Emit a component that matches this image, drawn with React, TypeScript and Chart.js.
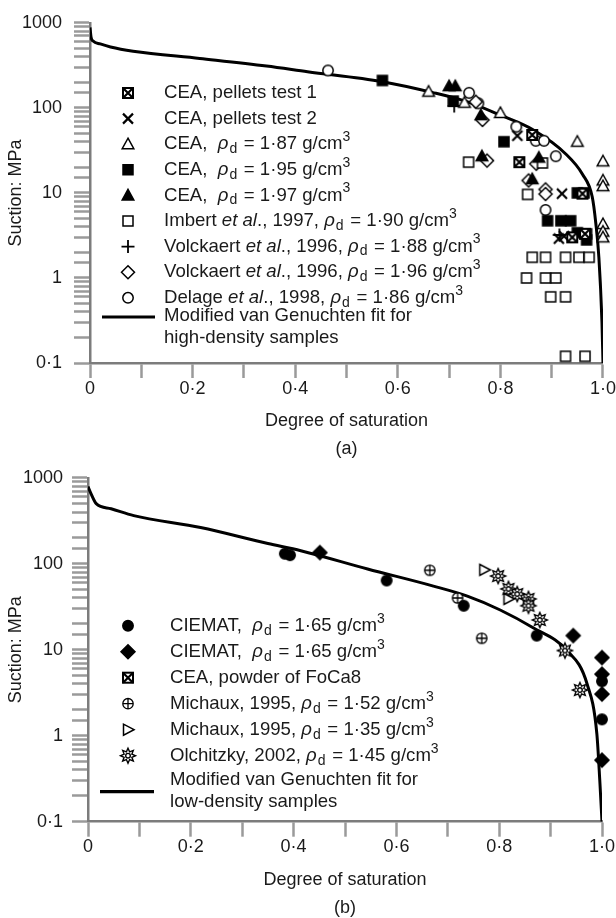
import React, { useEffect, useRef } from 'react';
import { Chart, registerables } from 'chart.js';
Chart.register(...registerables);

const FONT = '"Liberation Sans", Arial, Helvetica, sans-serif';
const INK = '#1a1a1a';
const LEG = 18.6;

// ---------- Panel (a) data: [degree of saturation, suction MPa] ----------
const fitA_S = [0, 0.002, 0.006, 0.02, 0.04, 0.084, 0.214, 0.344, 0.424, 0.57, 0.667, 0.733, 0.798, 0.862, 0.928, 0.96, 0.979, 0.986, 0.992, 0.998, 1.0];
const fitA_V = [880, 680, 610, 565, 520, 464, 381, 310, 266, 203, 152, 119, 83, 56, 28.5, 16.6, 9, 4.4, 1.74, 0.3, 0.1];

const ceaPellets1: [number, number][] = [[0.862, 48], [0.837, 23], [0.96, 9.8], [0.965, 3.3], [0.94, 3.0]];
const ceaPellets2: [number, number][] = [[0.833, 47], [0.92, 9.8], [0.914, 2.9], [0.924, 3.1]];
const cea187: [number, number][] = [[0.66, 155], [0.73, 115], [0.8, 87], [0.95, 40], [1.0, 23.5], [1.0, 14], [1.0, 12], [1.0, 4.3], [1.0, 3.5], [1.0, 3.0]];
const cea195: [number, number][] = [[0.57, 210], [0.708, 120], [0.807, 40], [0.95, 10], [0.963, 10], [0.892, 4.7], [0.918, 4.7], [0.937, 4.7], [0.95, 3.4], [0.968, 3.3], [0.968, 2.8]];
const cea197: [number, number][] = [[0.7, 180], [0.712, 180], [0.762, 82], [0.764, 27], [0.875, 26], [0.862, 14.5]];
const imbert190: [number, number][] = [[0.738, 23], [0.882, 22.5], [0.853, 9.6], [0.862, 1.75], [0.888, 1.75], [0.927, 1.75], [0.953, 1.75], [0.973, 1.75], [0.851, 1.0], [0.888, 1.0], [0.908, 1.0], [0.898, 0.6], [0.927, 0.6], [0.927, 0.12], [0.965, 0.12]];
const volck188: [number, number][] = [[0.71, 105], [0.915, 3.2]];
const volck196: [number, number][] = [[0.752, 118], [0.765, 72], [0.774, 24], [0.87, 22], [0.855, 14], [0.888, 11], [0.888, 9.7]];
const delage186: [number, number][] = [[0.464, 275], [0.739, 150], [0.757, 113], [0.831, 60], [0.869, 41], [0.885, 41], [0.908, 27], [0.888, 6.3]];

// ---------- Panel (b) data ----------
const fitB_S = [0, 0.006, 0.016, 0.045, 0.089, 0.219, 0.35, 0.414, 0.544, 0.672, 0.738, 0.802, 0.866, 0.932, 0.971, 0.99, 0.996, 1.0];
const fitB_V = [790, 650, 500, 436, 363, 264, 172, 142, 87, 55, 42, 29, 18, 9.8, 4, 1.05, 0.28, 0.1];

const ciematCircle: [number, number][] = [[0.383, 131], [0.393, 126], [0.581, 64], [0.731, 32.5], [0.873, 14.6], [1.0, 4.3], [1.0, 1.55]];
const ciematDiamond: [number, number][] = [[0.451, 135], [0.944, 14.6], [1.0, 8.1], [1.0, 5.2], [1.0, 3.05], [1.0, 0.52]];
const ceaPowder: [number, number][] = [];
const michaux152: [number, number][] = [[0.665, 84], [0.719, 40], [0.766, 13.6]];
const michaux135: [number, number][] = [[0.771, 85], [0.818, 39]];
const olchitzky145: [number, number][] = [[0.798, 72], [0.818, 51], [0.835, 44.5], [0.857, 39], [0.857, 32.5], [0.879, 22.2], [0.928, 9.8], [0.957, 3.4]];

// ---------- tick labels ----------
const yTickLabels: Record<string, string> = { '-1': '0·1', '0': '1', '1': '10', '2': '100', '3': '1000' };
const xTickLabels = ['0', '0·2', '0·4', '0·6', '0·8', '1·0'];

// ---------- legend texts (segments: [text, style] 0 normal, 1 italic, 2 sub, 3 sup) ----------
type Seg = [string, number?];
const rho = (v: string, pre: Seg[]): Seg[] => [...pre, ['ρ', 1], ['d', 2], [' = ' + v + ' g/cm'], ['3', 3]];
const legendA: Seg[][] = [
  [['CEA, pellets test 1']],
  [['CEA, pellets test 2']],
  rho('1·87', [['CEA,  ']]),
  rho('1·95', [['CEA,  ']]),
  rho('1·97', [['CEA,  ']]),
  rho('1·90', [['Imbert '], ['et al', 1], ['., 1997, ']]),
  rho('1·88', [['Volckaert '], ['et al', 1], ['., 1996, ']]),
  rho('1·96', [['Volckaert '], ['et al', 1], ['., 1996, ']]),
  rho('1·86', [['Delage '], ['et al', 1], ['., 1998, ']]),
];
const fitLabelA = ['Modified van Genuchten fit for', 'high-density samples'];
const legendB: Seg[][] = [
  rho('1·65', [['CIEMAT,  ']]),
  rho('1·65', [['CIEMAT,  ']]),
  [['CEA, powder of FoCa8']],
  rho('1·52', [['Michaux, 1995, ']]),
  rho('1·35', [['Michaux, 1995, ']]),
  rho('1·45', [['Olchitzky, 2002, ']]),
];
const fitLabelB = ['Modified van Genuchten fit for', 'low-density samples'];

// ---------- markers ----------
type Mk = 'boxX' | 'x' | 'triOpen' | 'sqFill' | 'triFill' | 'sqOpen' | 'plus' | 'diaOpen' | 'circOpen' | 'circFill' | 'diaFill' | 'circPlus' | 'triRight' | 'star';

function drawMarker(ctx: CanvasRenderingContext2D, mk: Mk, x: number, y: number) {
  ctx.save();
  ctx.strokeStyle = '#000';
  ctx.fillStyle = '#000';
  ctx.lineWidth = 1.5;
  ctx.lineJoin = 'miter';
  const poly = (pts: number[][], fill: string) => {
    ctx.beginPath();
    pts.forEach(([px, py], i) => (i ? ctx.lineTo(x + px, y + py) : ctx.moveTo(x + px, y + py)));
    ctx.closePath();
    ctx.fillStyle = fill;
    ctx.fill();
    ctx.stroke();
  };
  switch (mk) {
    case 'boxX': {
      const r = 5;
      ctx.fillStyle = '#fff';
      ctx.fillRect(x - r, y - r, 2 * r, 2 * r);
      ctx.lineWidth = 2;
      ctx.strokeRect(x - r, y - r, 2 * r, 2 * r);
      ctx.beginPath();
      ctx.moveTo(x - r, y - r); ctx.lineTo(x + r, y + r);
      ctx.moveTo(x + r, y - r); ctx.lineTo(x - r, y + r);
      ctx.lineWidth = 2.2;
      ctx.stroke();
      break;
    }
    case 'x': {
      const r = 5;
      ctx.lineWidth = 2.2;
      ctx.beginPath();
      ctx.moveTo(x - r, y - r); ctx.lineTo(x + r, y + r);
      ctx.moveTo(x + r, y - r); ctx.lineTo(x - r, y + r);
      ctx.stroke();
      break;
    }
    case 'plus': {
      const r = 6.5;
      ctx.lineWidth = 1.8;
      ctx.beginPath();
      ctx.moveTo(x - r, y); ctx.lineTo(x + r, y);
      ctx.moveTo(x, y - r); ctx.lineTo(x, y + r);
      ctx.stroke();
      break;
    }
    case 'triOpen': poly([[0, -6], [5.8, 4.5], [-5.8, 4.5]], '#fff'); break;
    case 'triFill': poly([[0, -6], [5.8, 4.5], [-5.8, 4.5]], '#000'); break;
    case 'triRight': poly([[6, 0], [-4.5, -5.5], [-4.5, 5.5]], '#fff'); break;
    case 'sqOpen': poly([[-5, -5], [5, -5], [5, 5], [-5, 5]], '#fff'); break;
    case 'sqFill': poly([[-5, -5], [5, -5], [5, 5], [-5, 5]], '#000'); break;
    case 'diaOpen': poly([[0, -6.5], [6.5, 0], [0, 6.5], [-6.5, 0]], '#fff'); break;
    case 'diaFill': poly([[0, -7], [7, 0], [0, 7], [-7, 0]], '#000'); break;
    case 'circOpen':
    case 'circFill': {
      ctx.beginPath();
      ctx.arc(x, y, 5.2, 0, Math.PI * 2);
      ctx.fillStyle = mk === 'circFill' ? '#000' : '#fff';
      ctx.fill();
      ctx.stroke();
      break;
    }
    case 'circPlus': {
      ctx.lineWidth = 1.3;
      ctx.beginPath();
      ctx.arc(x, y, 5.2, 0, Math.PI * 2);
      ctx.fillStyle = '#fff';
      ctx.fill();
      ctx.moveTo(x - 5.2, y); ctx.lineTo(x + 5.2, y);
      ctx.moveTo(x, y - 5.2); ctx.lineTo(x, y + 5.2);
      ctx.stroke();
      break;
    }
    case 'star': {
      const pts: number[][] = [];
      for (let i = 0; i < 16; i++) {
        const a = (i * Math.PI) / 8 - Math.PI / 2;
        const r = i % 2 === 0 ? 7.5 : 4.2;
        pts.push([r * Math.cos(a), r * Math.sin(a)]);
      }
      ctx.lineWidth = 1.4;
      poly(pts, '#fff');
      ctx.beginPath();
      ctx.arc(x, y, 2.3, 0, Math.PI * 2);
      ctx.stroke();
      break;
    }
  }
  ctx.restore();
}

const markerCache: Partial<Record<Mk, HTMLCanvasElement>> = {};
function markerCanvas(mk: Mk): HTMLCanvasElement {
  if (markerCache[mk]) return markerCache[mk]!;
  const c = document.createElement('canvas');
  c.width = 20;
  c.height = 20;
  drawMarker(c.getContext('2d')!, mk, 10, 10);
  markerCache[mk] = c;
  return c;
}

function drawRich(ctx: CanvasRenderingContext2D, segs: Seg[], x: number, y: number) {
  let cx = x;
  for (const [t, st = 0] of segs) {
    const small = st === 2 || st === 3;
    ctx.font = `${st === 1 ? 'italic ' : ''}${small ? 14 : LEG}px ${FONT}`;
    const dy = st === 2 ? 5 : st === 3 ? -7 : 0;
    ctx.fillText(t, cx, y + dy);
    cx += ctx.measureText(t).width + (t === 'ρ' ? 1 : t === 'd' ? 1.5 : 0);
  }
}

interface Series { label: string; pts: [number, number][]; mk: Mk }
interface PanelCfg {
  height: number;
  series: Series[];
  fitS: number[];
  fitV: number[];
  fitLabel: string;
  legend: Seg[][];
  fitLines: string[];
  legendMarkerX: number;
  legendTextX: number;
  legendTop: number;
  legendStep: number;
  fitLineY: number;
  fitTextY: number;
  fitLineX: [number, number];
  yWidth: number;
  rightPad: number;
  topPad: number;
  xHeight: number;
  yTickPad: number;
  xTitle: string[];
  xTitlePadBottom: number;
}

function makeConfig(p: PanelCfg): any {
  const legendPlugin = {
    id: 'richLegend',
    afterDraw(chart: any) {
      const ctx: CanvasRenderingContext2D = chart.ctx;
      ctx.save();
      ctx.fillStyle = INK;
      ctx.textBaseline = 'middle';
      ctx.textAlign = 'left';
      p.legend.forEach((segs, i) => {
        const y = p.legendTop + i * p.legendStep;
        drawMarker(ctx, p.series[i].mk, p.legendMarkerX, y);
        ctx.fillStyle = INK;
        drawRich(ctx, segs, p.legendTextX, y);
      });
      ctx.beginPath();
      ctx.moveTo(p.fitLineX[0], p.fitLineY);
      ctx.lineTo(p.fitLineX[1], p.fitLineY);
      ctx.lineWidth = 3.2;
      ctx.strokeStyle = '#000';
      ctx.stroke();
      ctx.font = `${LEG}px ${FONT}`;
      p.fitLines.forEach((t, i) => ctx.fillText(t, p.legendTextX, p.fitTextY + i * 21.5));
      ctx.restore();
    },
  };

  const datasets: any[] = p.series.map((s) => ({
    label: s.label,
    data: s.pts.map(([x, y]) => ({ x, y })),
    pointStyle: markerCanvas(s.mk),
    pointRadius: 5,
    pointHoverRadius: 5,
    showLine: false,
    clip: false,
  }));
  datasets.push({
    label: p.fitLabel,
    data: p.fitS.map((x, i) => ({ x, y: p.fitV[i] })),
    showLine: true,
    borderColor: '#000',
    borderWidth: 3,
    pointRadius: 0,
    cubicInterpolationMode: 'monotone',
    fill: false,
  });

  return {
    type: 'scatter',
    data: { datasets },
    plugins: [legendPlugin],
    options: {
      animation: false,
      responsive: false,
      devicePixelRatio: 1,
      events: [],
      layout: { padding: { left: 0, right: p.rightPad, top: p.topPad, bottom: 0 } },
      plugins: { legend: { display: false }, tooltip: { enabled: false }, title: { display: false } },
      scales: {
        x: {
          type: 'linear',
          min: 0,
          max: 1,
          afterFit: (s: any) => { s.height = p.xHeight; },
          ticks: {
            stepSize: 0.1,
            autoSkip: false,
            maxRotation: 0,
            padding: 0,
            color: INK,
            font: { family: FONT, size: 18 },
            callback: (v: number) => {
              const k = Math.round(v * 10);
              return k % 2 === 0 ? xTickLabels[k / 2] : '';
            },
          },
          grid: { drawOnChartArea: false, drawTicks: true, tickLength: 15, tickColor: '#9a9a9a', tickWidth: 2.5 },
          border: { display: true, color: '#7c7c7c', width: 2.5 },
          title: {
            display: true,
            text: p.xTitle,
            color: INK,
            font: { family: FONT, size: 18, lineHeight: 1.556 },
            padding: { top: 0, bottom: p.xTitlePadBottom },
          },
        },
        y: {
          type: 'logarithmic',
          min: 0.1,
          max: 1000,
          afterFit: (s: any) => { s.width = p.yWidth; },
          ticks: {
            autoSkip: false,
            padding: p.yTickPad,
            color: INK,
            font: { family: FONT, size: 18 },
            callback: (v: number) => {
              const l = Math.log10(v);
              const r = Math.round(l);
              return Math.abs(l - r) < 1e-6 ? yTickLabels[String(r)] ?? '' : '';
            },
          },
          grid: { drawOnChartArea: false, drawTicks: true, tickLength: 16, tickColor: '#9a9a9a', tickWidth: 2.5 },
          border: { display: true, color: '#7c7c7c', width: 2.5 },
          title: {
            display: true,
            text: 'Suction: MPa',
            color: INK,
            font: { family: FONT, size: 18 },
            padding: { top: 5, bottom: 0 },
          },
        },
      },
    },
  };
}

const panelA: PanelCfg = {
  height: 458,
  series: [
    { label: 'CEA, pellets test 1', pts: ceaPellets1, mk: 'boxX' },
    { label: 'CEA, pellets test 2', pts: ceaPellets2, mk: 'x' },
    { label: 'CEA, ρd = 1·87 g/cm3', pts: cea187, mk: 'triOpen' },
    { label: 'CEA, ρd = 1·95 g/cm3', pts: cea195, mk: 'sqFill' },
    { label: 'CEA, ρd = 1·97 g/cm3', pts: cea197, mk: 'triFill' },
    { label: 'Imbert et al., 1997, ρd = 1·90 g/cm3', pts: imbert190, mk: 'sqOpen' },
    { label: 'Volckaert et al., 1996, ρd = 1·88 g/cm3', pts: volck188, mk: 'plus' },
    { label: 'Volckaert et al., 1996, ρd = 1·96 g/cm3', pts: volck196, mk: 'diaOpen' },
    { label: 'Delage et al., 1998, ρd = 1·86 g/cm3', pts: delage186, mk: 'circOpen' },
  ],
  fitS: fitA_S,
  fitV: fitA_V,
  fitLabel: 'Modified van Genuchten fit for high-density samples',
  legend: legendA,
  fitLines: fitLabelA,
  legendMarkerX: 128,
  legendTextX: 164,
  legendTop: 93,
  legendStep: 25.6,
  fitLineY: 317,
  fitTextY: 316,
  fitLineX: [102, 155],
  yWidth: 90,
  rightPad: 12,
  topPad: 21,
  xHeight: 95,
  yTickPad: 12,
  xTitle: ['Degree of saturation', '(a)'],
  xTitlePadBottom: -5,
};

const panelB: PanelCfg = {
  height: 460,
  series: [
    { label: 'CIEMAT, ρd = 1·65 g/cm3', pts: ciematCircle, mk: 'circFill' },
    { label: 'CIEMAT, ρd = 1·65 g/cm3', pts: ciematDiamond, mk: 'diaFill' },
    { label: 'CEA, powder of FoCa8', pts: ceaPowder, mk: 'boxX' },
    { label: 'Michaux, 1995, ρd = 1·52 g/cm3', pts: michaux152, mk: 'circPlus' },
    { label: 'Michaux, 1995, ρd = 1·35 g/cm3', pts: michaux135, mk: 'triRight' },
    { label: 'Olchitzky, 2002, ρd = 1·45 g/cm3', pts: olchitzky145, mk: 'star' },
  ],
  fitS: fitB_S,
  fitV: fitB_V,
  fitLabel: 'Modified van Genuchten fit for low-density samples',
  legend: legendB,
  fitLines: fitLabelB,
  legendMarkerX: 128,
  legendTextX: 170,
  legendTop: 167.7,
  legendStep: 26,
  fitLineY: 333.7,
  fitTextY: 322,
  fitLineX: [100, 154],
  yWidth: 88,
  rightPad: 14,
  topPad: 18.7,
  xHeight: 96.3,
  yTickPad: 9,
  xTitle: ['Degree of saturation', '(b)'],
  xTitlePadBottom: -4,
};

function Panel({ cfg }: { cfg: PanelCfg }) {
  const ref = useRef<HTMLCanvasElement>(null);
  useEffect(() => {
    const chart = new Chart(ref.current!, makeConfig(cfg));
    return () => chart.destroy();
  }, [cfg]);
  return (
    <canvas
      ref={ref}
      width={616}
      height={cfg.height}
      style={{ display: 'block', width: 616, height: cfg.height }}
    />
  );
}

export default function App() {
  return (
    <div style={{ position: 'absolute', left: 0, top: 0, width: 616, height: 918, background: '#fff' }}>
      <Panel cfg={panelA} />
      <Panel cfg={panelB} />
    </div>
  );
}
